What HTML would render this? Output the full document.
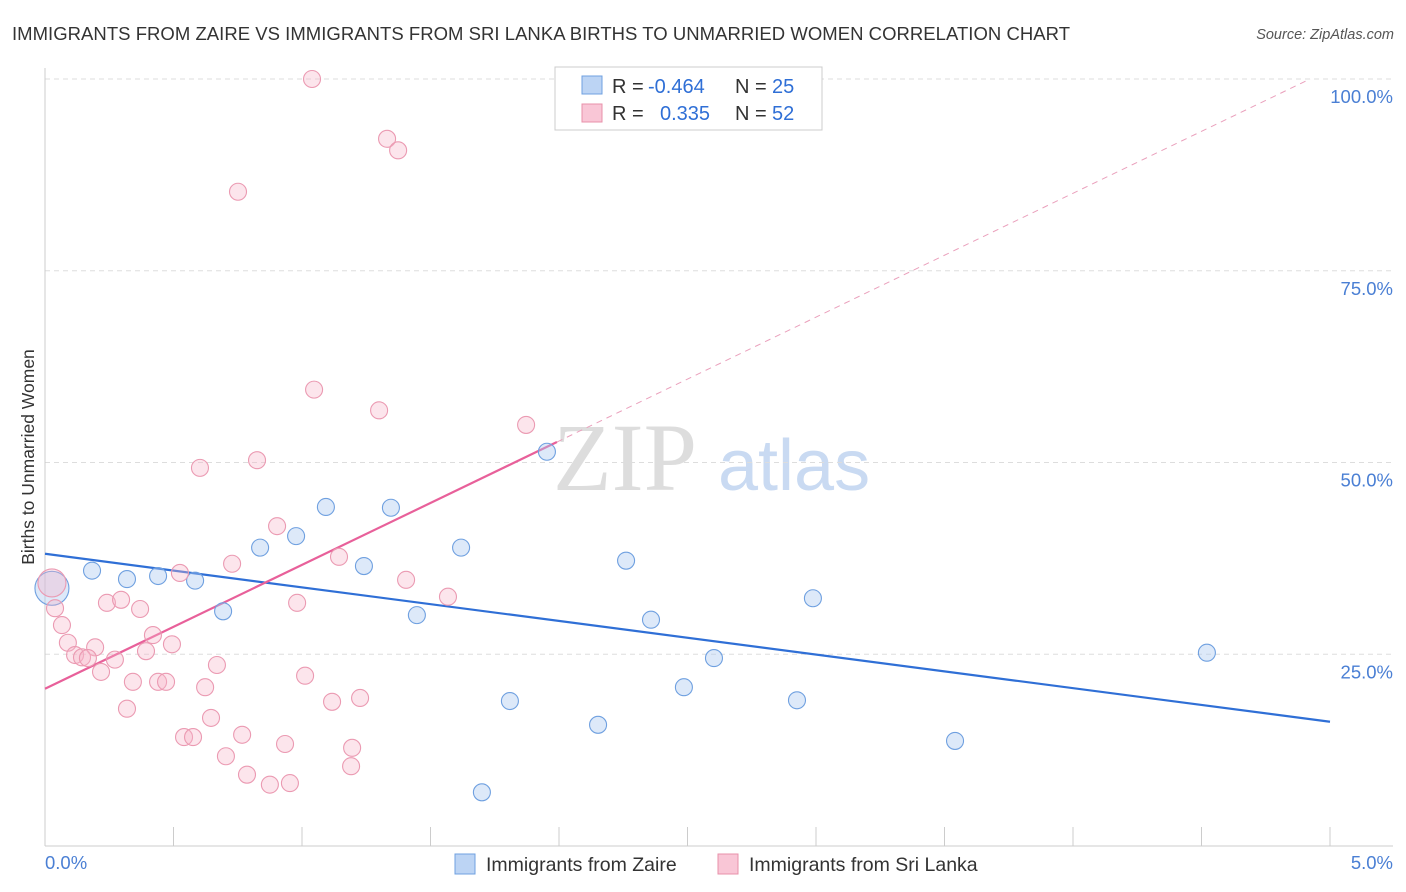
<!DOCTYPE html>
<html><head><meta charset="utf-8"><style>
body{margin:0;background:#fff;font-family:"Liberation Sans",sans-serif}
svg{display:block}
</style></head><body>
<svg id="chart" width="1406" height="892" xmlns="http://www.w3.org/2000/svg">
<text x="12" y="40" font-size="18.5" fill="#333" textLength="1058">IMMIGRANTS FROM ZAIRE VS IMMIGRANTS FROM SRI LANKA BIRTHS TO UNMARRIED WOMEN CORRELATION CHART</text>
<text x="1394" y="39" font-size="14.5" fill="#555" font-style="italic" text-anchor="end">Source: ZipAtlas.com</text>
<text transform="translate(34,457) rotate(-90)" font-size="17.5" fill="#333" text-anchor="middle">Births to Unmarried Women</text>
<g><text x="553" y="490" font-size="96" fill="#ddd" font-family="Liberation Serif,serif">ZIP</text><text x="718" y="490" font-size="72" fill="#c9daf2">atlas</text></g>
<g id="grid"></g><g id="axes"></g><g id="lines"></g><g id="pts"></g>
<g>
<rect x="555" y="67" width="267" height="63" fill="#fff" stroke="#ccc"/>
<rect x="582" y="76" width="20" height="18" fill="#bcd4f4" stroke="#6fa0e0"/>
<rect x="582" y="104" width="20" height="18" fill="#f9c6d6" stroke="#e890aa"/>
<text y="93" font-size="20" fill="#333"><tspan x="612">R =</tspan><tspan x="648" fill="#2f6fd6">-0.464</tspan><tspan x="735">N =</tspan><tspan x="772" fill="#2f6fd6">25</tspan></text>
<text y="120" font-size="20" fill="#333"><tspan x="612">R =</tspan><tspan x="660" fill="#2f6fd6">0.335</tspan><tspan x="735">N =</tspan><tspan x="772" fill="#2f6fd6">52</tspan></text>
</g>
<g>
<rect x="455" y="854" width="20" height="20" fill="#bcd4f4" stroke="#6fa0e0"/>
<text x="486" y="871" font-size="19.5" fill="#333">Immigrants from Zaire</text>
<rect x="718" y="854" width="20" height="20" fill="#f9c6d6" stroke="#e890aa"/>
<text x="749" y="871" font-size="19.5" fill="#333">Immigrants from Sri Lanka</text>
</g>
</svg>
<script>
const yTicks=[25,50,75,100];
const yTickLabels=["25.0%","50.0%","75.0%","100.0%"];
const zaireX=[0.027,0.183,0.319,0.44,0.584,0.693,0.837,0.977,1.093,1.241,1.346,1.447,1.619,1.700,1.809,1.953,2.152,2.261,2.358,2.486,2.603,2.926,2.988,3.541,4.521];
const zaireY=[33.6,35.9,34.8,35.2,34.6,30.6,38.9,40.4,44.2,36.5,44.1,30.1,38.9,7.0,18.9,51.4,15.8,37.2,29.5,20.7,24.5,19.0,32.3,13.7,25.2];
const lankaX=[1.039,1.331,1.374,0.751,1.047,1.300,1.872,0.603,0.825,0.903,0.728,1.144,0.525,1.405,1.568,0.981,0.241,0.296,0.370,0.027,0.039,0.066,0.089,0.195,0.117,0.144,0.167,0.272,0.420,0.494,0.393,0.218,0.342,0.440,0.471,0.669,0.623,1.012,1.117,1.226,0.319,0.646,0.541,0.576,0.767,0.704,0.934,1.195,1.191,0.786,0.875,0.953];
const lankaY=[100,92.2,90.7,85.3,59.5,56.8,54.9,49.3,50.3,41.7,36.8,37.7,35.6,34.7,32.5,31.7,31.7,32.1,30.9,34.3,31.0,28.8,26.5,25.9,24.9,24.6,24.5,24.3,27.5,26.3,25.4,22.7,21.4,21.4,21.4,23.6,20.7,22.2,18.8,19.3,17.9,16.7,14.2,14.2,14.5,11.7,13.3,12.8,10.4,9.3,8.0,8.2];
const zaireTrend=[38.1,16.2];
const lankaTrend=[20.5,16.15];
const NS="http://www.w3.org/2000/svg";
const X=v=>45+v/5*1285, Y=v=>846-v*7.67;
function mk(p,t,a){const e=document.createElementNS(NS,t);for(const k in a)e.setAttribute(k,a[k]);document.getElementById(p).appendChild(e);return e;}
yTicks.forEach((t,i)=>{
 const g=mk('grid','line',{x1:45,x2:1393,y1:Y(t),y2:Y(t),stroke:'#ddd','stroke-dasharray':'5,4'});
 
 
 const l=mk('grid','text',{x:1393,y:Y(t)+24,'font-size':18.5,fill:'#4a7fd4','text-anchor':'end'});
 l.textContent=yTickLabels[i];
 
 
});
mk('axes','line',{x1:45,x2:45,y1:68,y2:846,stroke:'#ccc'});
mk('axes','line',{x1:45,x2:1393,y1:846,y2:846,stroke:'#ccc'});
for(let i=1;i<=10;i++){const t=mk('axes','line',{x1:X(i*0.5),x2:X(i*0.5),y1:827,y2:846,stroke:'#ccc'});}
const x0=mk('axes','text',{x:45,y:869,'font-size':18.5,fill:'#4a7fd4'});x0.textContent='0.0%';


const x1=mk('axes','text',{x:1393,y:869,'font-size':18.5,fill:'#4a7fd4','text-anchor':'end'});x1.textContent='5.0%';


zaireX.forEach((x,i)=>{const c=mk('pts','circle',{cx:X(x),cy:Y(zaireY[i]),r:i==0?17:8.5,fill:'rgba(170,200,240,0.4)',stroke:'#6fa0e0','stroke-width':1.1});
 
 });
lankaX.forEach((x,i)=>{const c=mk('pts','circle',{cx:X(x),cy:Y(lankaY[i]),r:i==19?14:8.5,fill:'rgba(245,180,200,0.35)',stroke:'#eb9ab2','stroke-width':1.1});
 
 });
const bl=mk('lines','line',{x1:X(0),y1:Y(zaireTrend[0]),x2:X(5),y2:Y(zaireTrend[1]),stroke:'#2f6fd6','stroke-width':2.2});


const pe=1.992, pEnd=(100-lankaTrend[0])/lankaTrend[1];
const pl=mk('lines','line',{x1:X(0),y1:Y(lankaTrend[0]),x2:X(pe),y2:Y(lankaTrend[0]+lankaTrend[1]*pe),stroke:'#e8609a','stroke-width':2.2});


const pd=mk('lines','line',{x1:X(pe),y1:Y(lankaTrend[0]+lankaTrend[1]*pe),x2:X(pEnd),y2:Y(100),stroke:'#eaa0bc','stroke-width':1,'stroke-dasharray':'6,5'});


</script>
</body></html>
